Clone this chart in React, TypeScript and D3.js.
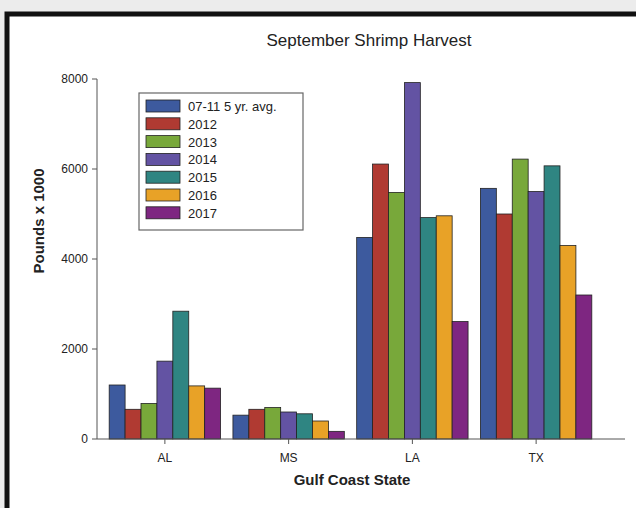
import React from "react";
import * as d3 from "d3";

const states = ["AL", "MS", "LA", "TX"];
const seriesNames = ["07-11 5 yr. avg.", "2012", "2013", "2014", "2015", "2016", "2017"];
const colors = ["#3d5a9e", "#b03a32", "#78a83a", "#6353a3", "#2f8582", "#e8a227", "#7e2681"];
const values: number[][] = [
  [1200, 530, 4480, 5570],
  [660, 660, 6110, 5000],
  [790, 700, 5480, 6220],
  [1730, 600, 7920, 5500],
  [2840, 560, 4920, 6070],
  [1180, 400, 4960, 4300],
  [1130, 170, 2610, 3200],
];
const yTicks = [0, 2000, 4000, 6000, 8000];

export default function App() {
  const W = 636, H = 508;
  const x0 = 97, x1 = 625, yTop = 79, yBot = 439;
  const x = d3.scaleBand().domain(states).range([x0 + 6, x1 - 27]).paddingInner(0.1).paddingOuter(0.05);
  const xs = d3.scaleBand().domain(seriesNames).range([0, x.bandwidth()]);
  const y = d3.scaleLinear().domain([0, 8000]).range([yBot, yTop]);
  const font = "Arial, 'Liberation Sans', sans-serif";
  return (
    <svg width={W} height={H} style={{ position: "absolute", left: 0, top: 0 }} fontFamily={font}>
      <rect width={W} height={H} fill="#ececec" />
      <rect x={7} y={14} width={W} height={H} fill="#fff" stroke="#111" strokeWidth={5} />
      <text x={369} y={46} textAnchor="middle" fontSize={17} fill="#222">September Shrimp Harvest</text>
      {seriesNames.map((s, i) =>
        states.map((st, j) => (
          <rect key={s + st} x={x(st)! + xs(s)!} y={y(values[i][j])} width={xs.bandwidth()}
            height={yBot - y(values[i][j])} fill={colors[i]} stroke="#222" strokeWidth={0.8} />
        ))
      )}
      <line x1={x0} x2={x0} y1={yTop} y2={yBot} stroke="#555" />
      <line x1={x0} x2={x1} y1={yBot} y2={yBot} stroke="#555" />
      {yTicks.map(t => (
        <g key={t}>
          <line x1={x0 - 5} x2={x0} y1={y(t)} y2={y(t)} stroke="#555" />
          <text x={x0 - 9} y={y(t) + 4} textAnchor="end" fontSize={12} fill="#222">{t}</text>
        </g>
      ))}
      {states.map(st => (
        <g key={st}>
          <line x1={x(st)! + x.bandwidth() / 2} x2={x(st)! + x.bandwidth() / 2} y1={yBot} y2={yBot + 5} stroke="#555" />
          <text x={x(st)! + x.bandwidth() / 2} y={yBot + 23} textAnchor="middle" fontSize={12} fill="#222">{st}</text>
        </g>
      ))}
      <text x={352} y={485} textAnchor="middle" fontSize={15} fontWeight="bold" fill="#222">Gulf Coast State</text>
      <text transform="translate(44,221) rotate(-90)" textAnchor="middle" fontSize={15} fontWeight="bold" fill="#222">Pounds x 1000</text>
      <rect x={139} y={93} width={164} height={137} fill="#fff" stroke="#666" strokeWidth={1.2} />
      {seriesNames.map((s, i) => (
        <g key={s}>
          <rect x={146} y={100 + i * 17.8} width={34} height={12} fill={colors[i]} stroke="#222" strokeWidth={0.8} />
          <text x={188} y={111 + i * 17.8} fontSize={13} fill="#222">{s}</text>
        </g>
      ))}
    </svg>
  );
}
